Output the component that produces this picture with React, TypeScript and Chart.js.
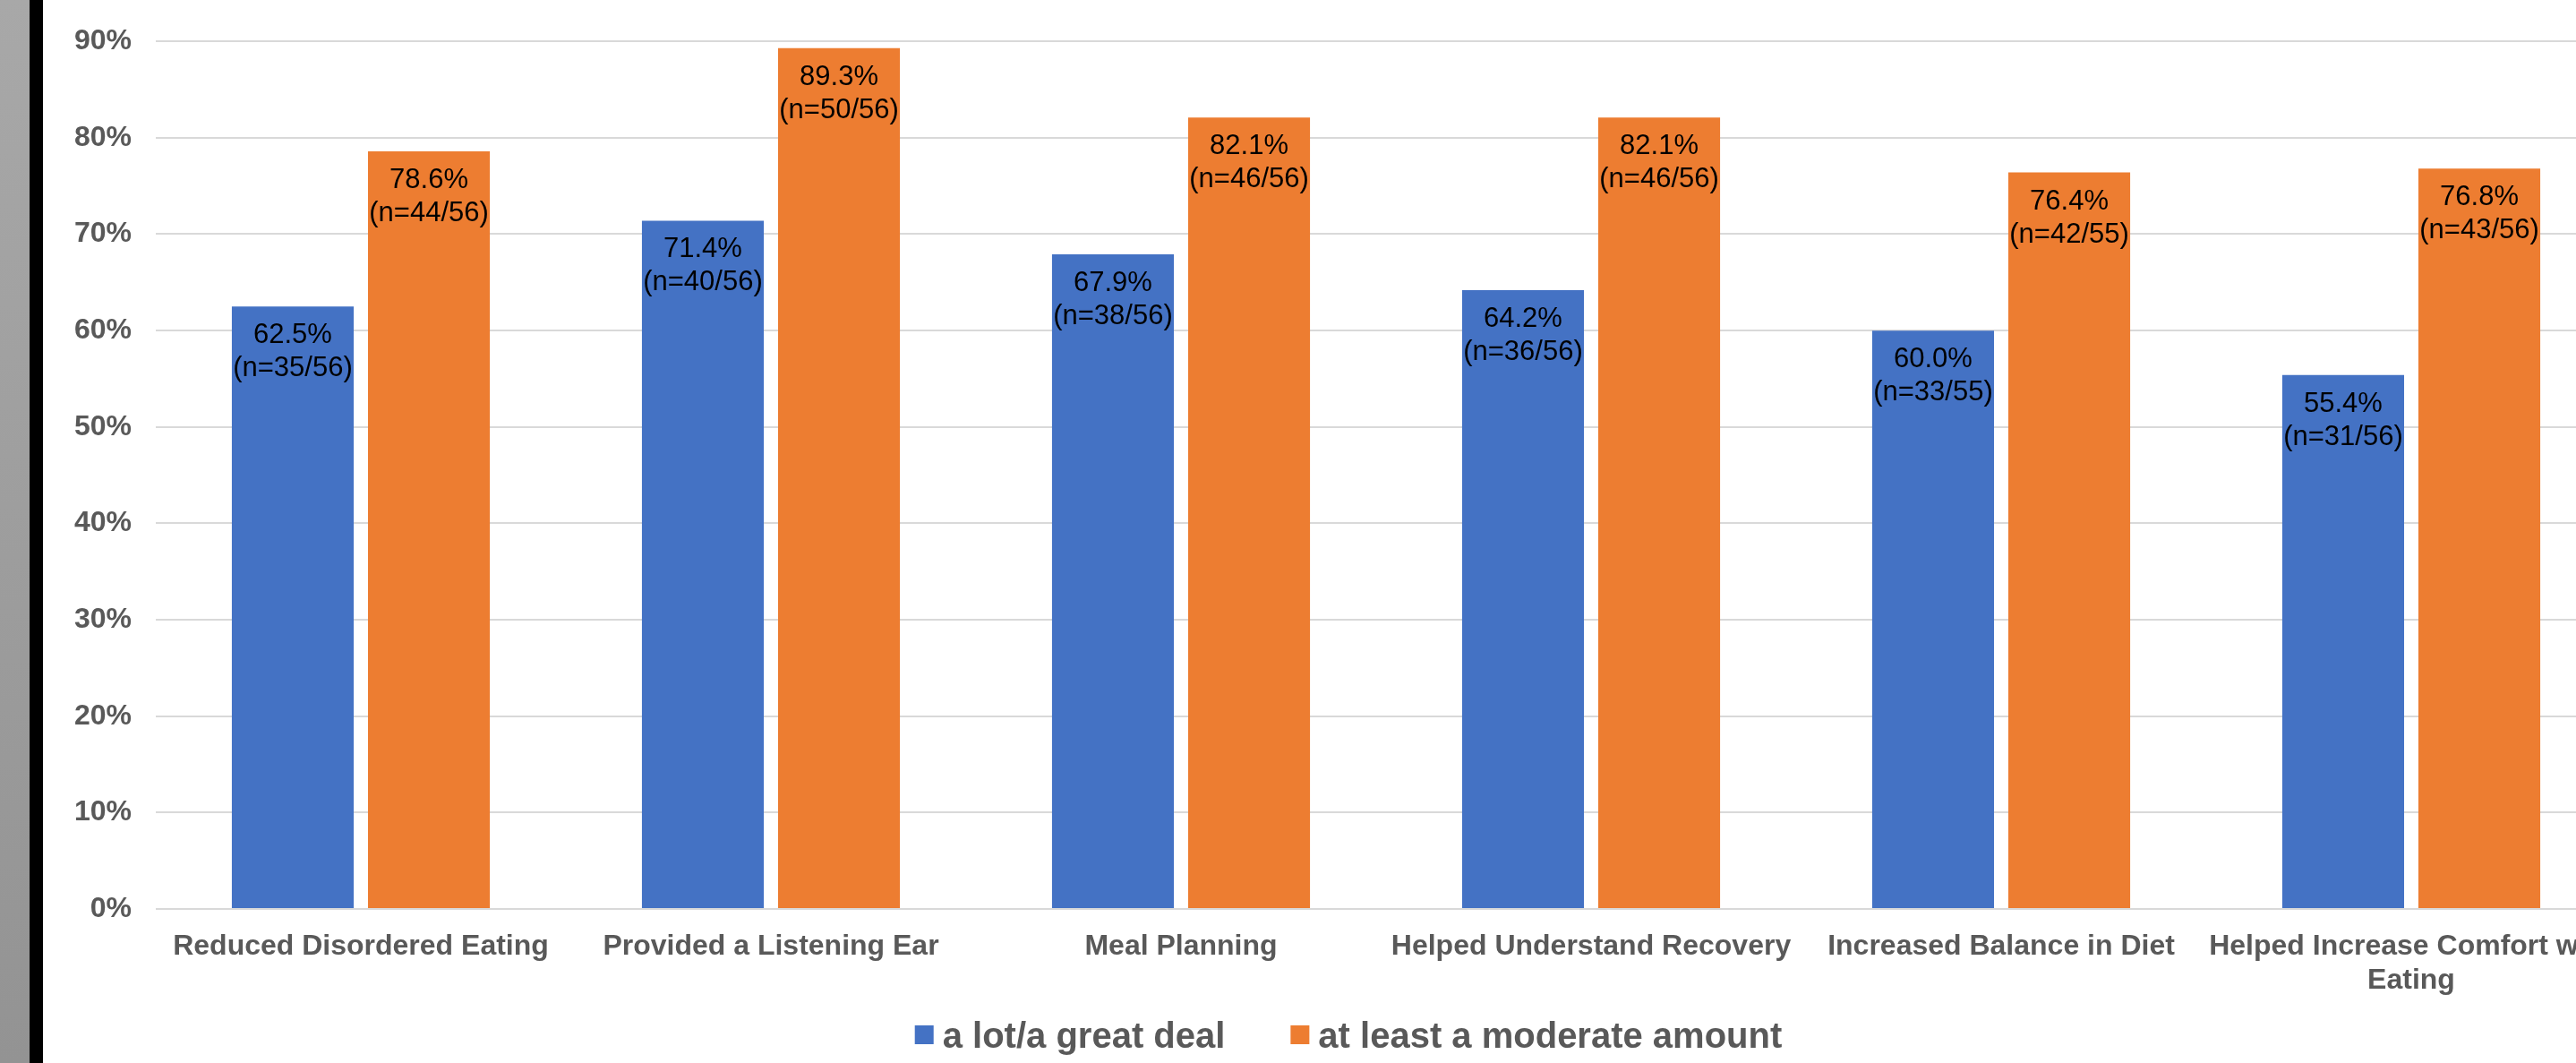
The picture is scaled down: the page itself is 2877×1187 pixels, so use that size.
import React, { useEffect, useRef } from 'react';
import { Chart, registerables } from 'chart.js';

Chart.register(...registerables);

const categories: (string | string[])[] = [
  'Reduced Disordered Eating',
  'Provided a Listening Ear',
  'Meal Planning',
  'Helped Understand Recovery',
  'Increased Balance in Diet',
  ['Helped Increase Comfort with', 'Eating'],
];
const seriesNames = ['a lot/a great deal', 'at least a moderate amount'];
const greatDeal = [62.5, 71.4, 67.9, 64.2, 60.0, 55.4];
const moderate = [78.6, 89.3, 82.1, 82.1, 76.4, 76.8];
const greatDealN = ['(n=35/56)', '(n=40/56)', '(n=38/56)', '(n=36/56)', '(n=33/55)', '(n=31/56)'];
const moderateN = ['(n=44/56)', '(n=50/56)', '(n=46/56)', '(n=46/56)', '(n=42/55)', '(n=43/56)'];
const yMin = 0;
const yMax = 90;
const yStep = 10;

const BLUE = '#4472C4';
const ORANGE = '#ED7D31';
const GRAY_TEXT = '#595959';
const FONT = 'Liberation Sans, Arial, sans-serif';

const nLabels = [greatDealN, moderateN];

const CANVAS_W = 2916;
const CANVAS_H = 1187;

const barLabelPlugin = {
  id: 'barLabels',
  afterDatasetsDraw(chart: any) {
    const ctx = chart.ctx;
    ctx.save();
    ctx.fillStyle = '#000000';
    ctx.font = `31px ${FONT}`;
    ctx.textAlign = 'center';
    ctx.textBaseline = 'alphabetic';
    chart.data.datasets.forEach((ds: any, di: number) => {
      const meta = chart.getDatasetMeta(di);
      meta.data.forEach((bar: any, i: number) => {
        const v = ds.data[i] as number;
        ctx.fillText(v.toFixed(1) + '%', bar.x, bar.y + 41);
        ctx.fillText(nLabels[di][i], bar.x, bar.y + 78);
      });
    });
    ctx.restore();
  },
};

const legendPlugin = {
  id: 'customLegend',
  afterDraw(chart: any) {
    const ctx = chart.ctx;
    const box = 21;
    const gap = 10;
    const spacing = 73;
    ctx.save();
    ctx.font = `bold 40px ${FONT}`;
    ctx.textBaseline = 'alphabetic';
    ctx.textAlign = 'left';
    const items = chart.data.datasets.map((ds: any) => ({
      text: ds.label as string,
      color: ds.backgroundColor as string,
      w: ctx.measureText(ds.label).width,
    }));
    let total = 0;
    items.forEach((it: any, i: number) => {
      total += box + gap + it.w + (i < items.length - 1 ? spacing : 0);
    });
    let x = chart.width / 2 - total / 2;
    const boxTop = 1145;
    const baseline = 1170;
    items.forEach((it: any) => {
      ctx.fillStyle = it.color;
      ctx.fillRect(x, boxTop, box, box);
      ctx.fillStyle = GRAY_TEXT;
      ctx.fillText(it.text, x + box + gap, baseline);
      x += box + gap + it.w + spacing;
    });
    ctx.restore();
  },
};

export default function App() {
  const canvasRef = useRef<HTMLCanvasElement | null>(null);

  useEffect(() => {
    if (!canvasRef.current) return;
    const chart = new Chart(canvasRef.current, {
      type: 'bar',
      data: {
        labels: categories,
        datasets: [
          {
            label: seriesNames[0],
            data: greatDeal,
            backgroundColor: BLUE,
            barPercentage: 0.895,
            categoryPercentage: 0.664,
          },
          {
            label: seriesNames[1],
            data: moderate,
            backgroundColor: ORANGE,
            barPercentage: 0.895,
            categoryPercentage: 0.664,
          },
        ],
      },
      options: {
        responsive: false,
        animation: false,
        devicePixelRatio: 1,
        layout: { padding: { top: 46, left: 0, right: 42, bottom: 72 } },
        plugins: {
          tooltip: { enabled: false },
          legend: { display: false },
        },
        scales: {
          x: {
            grid: { display: false, drawTicks: false },
            border: { display: false },
            ticks: {
              color: GRAY_TEXT,
              font: { family: FONT, size: 32, weight: 'bold', lineHeight: 1.19 },
              padding: 23,
              maxRotation: 0,
              minRotation: 0,
              autoSkip: false,
            },
            afterFit(scale: any) {
              scale.height = 100;
            },
          },
          y: {
            min: yMin,
            max: yMax,
            grid: { color: '#d9d9d9', lineWidth: 2, drawTicks: false },
            border: { display: false },
            ticks: {
              stepSize: yStep,
              color: GRAY_TEXT,
              padding: 27,
              font: { family: FONT, size: 32, weight: 'bold' },
              callback: (v: any) => `${v}%`,
            },
            afterFit(scale: any) {
              scale.width = 126;
            },
          },
        },
      },
      plugins: [barLabelPlugin, legendPlugin],
    });
    return () => chart.destroy();
  }, []);

  return (
    <div
      style={{
        position: 'fixed',
        left: 0,
        top: 0,
        width: 2877,
        height: 1187,
        overflow: 'hidden',
        background: '#ffffff',
      }}
    >
      <div
        style={{
          position: 'absolute',
          left: 0,
          top: 0,
          width: 33,
          height: 1187,
          background: 'linear-gradient(#a8a8a8, #939393)',
        }}
      />
      <div style={{ position: 'absolute', left: 33, top: 0, width: 15, height: 1187, background: '#000000' }} />
      <canvas
        ref={canvasRef}
        width={CANVAS_W}
        height={CANVAS_H}
        style={{ position: 'absolute', left: 48, top: 0, width: CANVAS_W, height: CANVAS_H }}
      />
    </div>
  );
}
